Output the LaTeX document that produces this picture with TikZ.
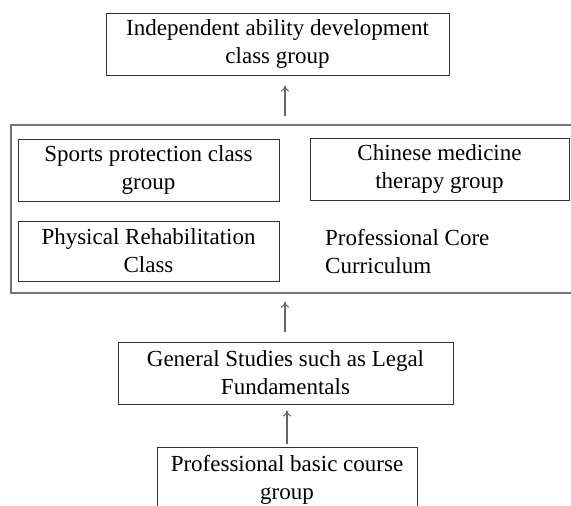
\documentclass[tikz,border=0pt]{standalone}
\usepackage{fontspec}
\setmainfont{Liberation Serif}
\usetikzlibrary{arrows.meta}
\begin{document}
\begin{tikzpicture}[x=1pt,y=-1pt,
  box/.style={draw=black!80, line width=1pt, rectangle, inner sep=0pt, align=center,
    font=\fontsize{23}{28}\selectfont, execute at begin node={\rule{0pt}{26pt}}},
  outer/.style={draw=black!55, line width=1.3pt, rectangle, inner sep=0pt},
  arr/.style={draw=black!60, line width=1.1pt, -{To[length=6pt,width=8pt]}},
  plain/.style={inner sep=0pt, align=left, font=\fontsize{23}{28}\selectfont}]
\useasboundingbox (0,0) rectangle (571,506);
\fill[white] (0,0) rectangle (571,506);
\node[box, minimum width=343pt, minimum height=62pt] (top) at (277.5,44) {Independent ability development\\class group};
\node[outer, minimum width=566pt, minimum height=168pt] (cont) at (294,209) {};
\node[box, minimum width=261pt, minimum height=62pt] (sports) at (148.5,170) {Sports protection class\\group};
\node[box, minimum width=259pt, minimum height=62pt] (chinese) at (439.5,169) {Chinese medicine\\therapy group};
\node[box, minimum width=261pt, minimum height=60pt] (phys) at (148.5,251) {Physical Rehabilitation\\Class};
\node[plain, anchor=west] (core) at (325,252) {Professional Core\\Curriculum};
\node[box, minimum width=335pt, minimum height=62pt] (gen) at (285.5,373) {General Studies such as Legal\\Fundamentals};
\node[box, minimum width=260pt, minimum height=66pt] (basic) at (287,480) {Professional basic course\\group};
\coordinate (x1) at (285,0);
\coordinate (x3) at (287,0);
\draw[arr, shorten <=8pt, shorten >=10pt] (cont.north -| x1) -- (top.south -| x1);
\draw[arr, shorten <=10pt, shorten >=8pt] (gen.north -| x1) -- (cont.south -| x1);
\draw[arr, shorten <=3pt, shorten >=6pt] (basic.north -| x3) -- (gen.south -| x3);
\end{tikzpicture}
\end{document}
